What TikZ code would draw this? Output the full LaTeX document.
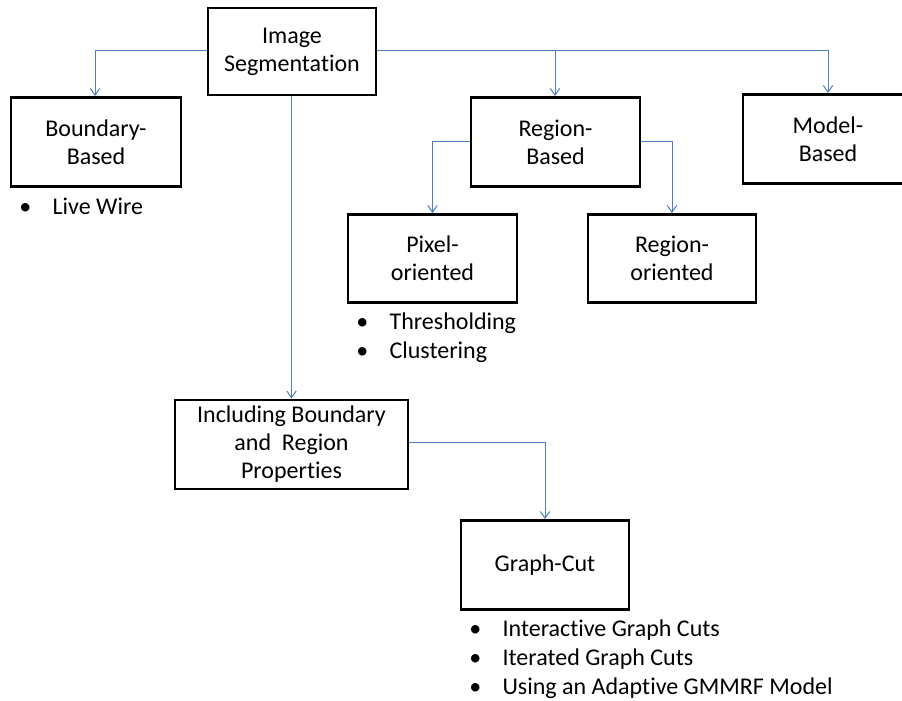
\documentclass[tikz,border=0pt]{standalone}
\usepackage{fontspec}
\setmainfont{Carlito}[Ligatures=NoCommon]
\usepackage{tikz}
\usetikzlibrary{positioning,arrows.meta}

\newcommand{\bul}{\makebox[25pt][l]{\textbullet}}

\begin{document}
\begin{tikzpicture}[x=0.75pt,y=-0.75pt,
    box/.style={draw=black, line width=2.2pt, align=center, inner sep=0pt,
                font=\fontsize{18pt}{21pt}\selectfont},
    item/.style={anchor=base west, inner sep=0pt,
                font=\fontsize{18pt}{21pt}\selectfont},
    link/.style={draw={rgb,255:red,74;green,126;blue,193}, line width=0.75pt},
    arr/.style={link, -{Straight Barb[length=5pt,width=7pt]}}]
  \useasboundingbox (0,0) rectangle (902,700);

  \node[box, minimum width=168*0.75pt, minimum height=87*0.75pt] (seg) at (292,51.5)
    {Image\\Segmentation};
  \node[box, minimum width=170*0.75pt, minimum height=89*0.75pt] (bnd) at (96,142)
    {Boundary-\\Based};
  \node[box, minimum width=169*0.75pt, minimum height=89*0.75pt] (reg) at (555.5,142)
    {Region-\\Based};
  \node[box, minimum width=170*0.75pt, minimum height=89*0.75pt] (mod) at (828,139)
    {Model-\\Based};
  \node[box, minimum width=169*0.75pt, minimum height=88*0.75pt] (pix) at (432.5,258.5)
    {Pixel-\\oriented};
  \node[box, minimum width=168*0.75pt, minimum height=88*0.75pt] (ror) at (672,258.5)
    {Region-\\oriented};
  \node[box, minimum width=233*0.75pt, minimum height=89*0.75pt] (inc) at (291.5,444.5)
    {Including Boundary\\and~ Region\\Properties};
  \node[box, minimum width=168*0.75pt, minimum height=89*0.75pt] (gc) at (545,565)
    {Graph-Cut};

  \node[item] (lw) at (19,214) {\bul Live Wire};
  \node[item] (thr) at (356,329) {\bul Thresholding};
  \node[item] (clu) at (356,358) {\bul Clustering};
  \node[item] (igc) at (469,636) {\bul Interactive Graph Cuts};
  \node[item] (itc) at (469,665) {\bul Iterated Graph Cuts};
  \node[item] (gmm) at (469,694) {\bul Using an Adaptive GMMRF Model};

  \coordinate (bndk) at (95,50);
  \coordinate (regk) at (555,50);
  \coordinate (modk) at (828,50);
  \draw[arr] (seg.west |- bndk) -- (bndk) -- (bndk |- bnd.north);
  \draw[link] (seg.east |- modk) -- (modk);
  \draw[arr] (modk) -- (modk |- mod.north);
  \draw[arr] (regk) -- (regk |- reg.north);
  \draw[arr] (seg.south -| inc.north) -- (inc.north);
  \draw[arr] (reg.west |- 0,141) -| (pix.north);
  \draw[arr] (reg.east |- 0,141) -| (ror.north);
  \draw[arr] (inc.east |- 0,442) -| (gc.north);
\end{tikzpicture}
\end{document}
